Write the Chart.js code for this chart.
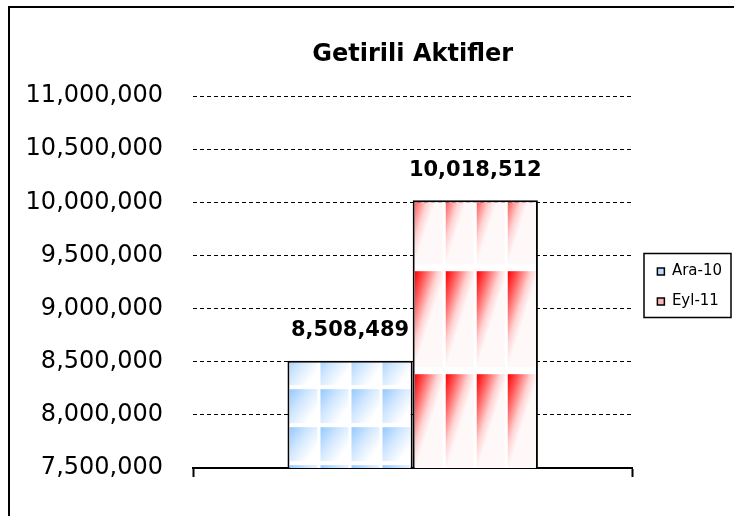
<!DOCTYPE html>
<html>
<head>
<meta charset="utf-8">
<script src="https://cdn.jsdelivr.net/npm/chart.js@4/dist/chart.umd.min.js"></script>
<style>
  html, body { margin: 0; padding: 0; background: #fff; }
  #wrap { width: 734px; height: 516px; }
</style>
</head>
<body>
<div id="wrap"><canvas id="assetChart" width="734" height="516"></canvas></div>
<script>
// data
const categories = [''];
const seriesNames = ['Ara-10', 'Eyl-11'];
const araValues = [8508489];
const eylValues = [10018512];
const yTicks = [7500000, 8000000, 8500000, 9000000, 9500000, 10000000, 10500000, 11000000];
const chartTitle = 'Getirili Aktifler';

// tiled gradient fills like the old Excel pattern
const tmp = document.createElement('canvas').getContext('2d');

function makePattern(w, h, cw, ch, gx, gy, stops) {
    const c = document.createElement('canvas');
    c.width = w; c.height = h;
    const g = c.getContext('2d');
    g.fillStyle = '#fff';
    g.fillRect(0, 0, w, h);
    const grad = g.createLinearGradient(0, 0, gx, gy);
    stops.forEach(s => grad.addColorStop(s[0], s[1]));
    g.fillStyle = grad;
    g.fillRect(0, 0, cw, ch);
    return tmp.createPattern(c, 'repeat');
}

const bluePattern = makePattern(31, 38, 28, 34, 27, 20,
    [[0, '#94c9ff'], [0.5, '#d2e8ff'], [1, '#ffffff']]);
const redPattern = makePattern(31, 103, 28, 96, 28, 9,
    [[0, '#ff0000'], [0.35, '#ff5c5c'], [0.75, '#ffd2d2'], [1, '#fff8f8']]);
const legendFills = ['#b8dbff', '#ffb4b4'];

const fmt = v => v.toLocaleString('en-US');

// outer frame, title, legend box, value labels
const decor = {
    id: 'decor',
    afterLayout(chart) {
        // leave a small gap between plot and legend, like the original
        const lg = chart.legend;
        if (lg) { lg.left += 10; lg.right += 10; }
    },
    beforeDraw(chart) {
        const ctx = chart.ctx;
        ctx.save();
        ctx.fillStyle = '#fff';
        ctx.fillRect(0, 0, chart.width, chart.height);
        ctx.strokeStyle = '#000';
        ctx.lineWidth = 2;
        ctx.beginPath();
        ctx.moveTo(9, chart.height);
        ctx.lineTo(9, 7);
        ctx.lineTo(chart.width, 7);
        ctx.stroke();
        ctx.restore();
    },
    beforeDatasetsDraw(chart) {
        // anchor pattern tiles to each bar
        chart.data.datasets.forEach((ds, i) => {
            const el = chart.getDatasetMeta(i).data[0];
            if (!el || !ds.backgroundColor.setTransform) return;
            const left = el.x - el.width / 2 + 2;
            const phase = i === 0 ? 2 : 67;
            ds.backgroundColor.setTransform(new DOMMatrix().translate(left, el.base - phase));
        });
    },
    afterDatasetsDraw(chart) {
        const ctx = chart.ctx;
        ctx.save();
        ctx.fillStyle = '#000';
        ctx.font = 'bold 21px "DejaVu Sans", Verdana, sans-serif';
        ctx.textAlign = 'center';
        ctx.textBaseline = 'middle';
        chart.data.datasets.forEach((ds, i) => {
            chart.getDatasetMeta(i).data.forEach((el, j) => {
                ctx.fillText(fmt(ds.data[j]), el.x, el.y - 30);
            });
        });
        ctx.restore();
    },
    afterDraw(chart) {
        const ctx = chart.ctx;
        const a = chart.chartArea;
        ctx.save();
        ctx.fillStyle = '#000';
        ctx.font = 'bold 24px "DejaVu Sans", Verdana, sans-serif';
        ctx.textAlign = 'center';
        ctx.textBaseline = 'middle';
        ctx.fillText(chartTitle, (a.left + a.right) / 2, 55);
        const lg = chart.legend;
        if (lg && lg.legendHitBoxes.length) {
            const hb = lg.legendHitBoxes;
            const first = hb[0], last = hb[hb.length - 1];
            const top = first.top + first.height / 2 - 18;
            const bottom = last.top + last.height / 2 + 16;
            ctx.strokeStyle = '#000';
            ctx.lineWidth = 1.5;
            ctx.strokeRect(644, top, 87, bottom - top);
        }
        ctx.restore();
    }
};

new Chart(document.getElementById('assetChart'), {
    type: 'bar',
    data: {
        labels: categories,
        datasets: [{
            label: seriesNames[0],
            data: araValues,
            backgroundColor: bluePattern,
            borderColor: '#000',
            borderWidth: 2,
            borderSkipped: false,
            categoryPercentage: 0.57,
            barPercentage: 1
        }, {
            label: seriesNames[1],
            data: eylValues,
            backgroundColor: redPattern,
            borderColor: '#000',
            borderWidth: 2,
            borderSkipped: false,
            categoryPercentage: 0.57,
            barPercentage: 1
        }]
    },
    options: {
        responsive: false,
        animation: false,
        layout: { padding: { top: 96, left: 9, right: 12, bottom: 39 } },
        plugins: {
            title: { display: false },
            tooltip: { enabled: false },
            legend: {
                position: 'right',
                align: 'center',
                labels: {
                    boxWidth: 7,
                    boxHeight: 7,
                    padding: 15,
                    color: '#000',
                    font: { family: '"DejaVu Sans", Verdana, sans-serif', size: 15 },
                    generateLabels(chart) {
                        return chart.data.datasets.map((ds, i) => ({
                            text: ds.label,
                            fillStyle: legendFills[i],
                            strokeStyle: '#000',
                            lineWidth: 1.5,
                            datasetIndex: i
                        }));
                    }
                }
            }
        },
        scales: {
            x: {
                offset: true,
                grid: {
                    display: true,
                    offset: true,
                    drawOnChartArea: false,
                    drawTicks: true,
                    tickLength: 9,
                    tickWidth: 2,
                    tickColor: '#000'
                },
                border: { display: true, color: '#000', width: 2 },
                ticks: { display: false },
                afterFit(s) { s.height = 9; }
            },
            y: {
                min: yTicks[0],
                max: yTicks[yTicks.length - 1],
                afterBuildTicks(s) { s.ticks = yTicks.map(v => ({ value: v })); },
                grid: { color: '#000', lineWidth: 1, drawTicks: false },
                border: { display: false, dash: [4, 3] },
                ticks: {
                    color: '#000',
                    padding: 30,
                    font: { family: '"DejaVu Sans", Verdana, sans-serif', size: 24 },
                    callback: v => fmt(v)
                },
                afterFit(s) { s.width = 184; }
            }
        }
    },
    plugins: [decor]
});
</script>
</body>
</html>
